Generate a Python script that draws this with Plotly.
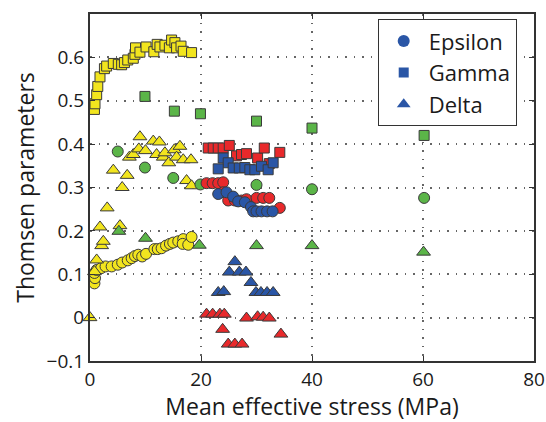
import plotly.graph_objects as go

# --- Yellow series ---
yel_sq_x = [0.8, 0.9, 1.2, 1.4, 1.8, 2.6, 3.0, 4.2, 5.1, 5.7, 6.2, 6.8, 7.8, 8.1, 8.2, 9.0,
            10.1, 11.5, 12.1, 12.6, 13.5, 14.3, 14.7, 15.3, 15.6, 16.4, 16.8, 18.3]
yel_sq_y = [0.480, 0.493, 0.514, 0.533, 0.555, 0.574, 0.580, 0.586, 0.584, 0.583, 0.588, 0.594,
            0.598, 0.607, 0.622, 0.612, 0.624, 0.613, 0.630, 0.624, 0.628, 0.622, 0.640, 0.634,
            0.622, 0.626, 0.614, 0.611]

yel_ci_x = [0.8, 0.9, 0.8, 1.2, 2.0, 2.8, 3.9, 5.0, 5.8, 6.8, 7.5, 8.1, 8.7, 9.4, 10.1, 11.6,
            12.2, 12.9, 13.7, 14.4, 15.0, 15.9, 16.8, 16.7, 17.7, 18.3]
yel_ci_y = [0.079, 0.091, 0.103, 0.110, 0.114, 0.118, 0.118, 0.122, 0.127, 0.132, 0.137, 0.142,
            0.145, 0.141, 0.147, 0.158, 0.158, 0.160, 0.166, 0.170, 0.173, 0.176, 0.181, 0.170,
            0.168, 0.186]

yel_tr_x = [0.0, 0.8, 1.2, 2.1, 2.4, 1.8, 5.4, 3.1, 5.8, 6.7, 4.2, 7.1, 7.8, 8.8, 9.0, 10.0,
            11.4, 12.5, 12.0, 13.2, 13.5, 14.2, 15.2, 15.6, 16.2, 16.8, 17.4, 18.2, 18.3]
yel_tr_y = [0.000, 0.106, 0.133, 0.166, 0.176, 0.209, 0.212, 0.253, 0.300, 0.328, 0.340, 0.370,
            0.376, 0.389, 0.417, 0.385, 0.407, 0.405, 0.376, 0.370, 0.380, 0.357, 0.387, 0.370,
            0.395, 0.364, 0.316, 0.364, 0.304]

# --- Green series ---
grn_sq_x = [9.9, 15.2, 19.9, 30.0, 40.0, 60.2]
grn_sq_y = [0.510, 0.476, 0.470, 0.453, 0.437, 0.420]
grn_ci_x = [5.0, 9.9, 15.0, 19.9, 30.0, 40.0, 60.2]
grn_ci_y = [0.383, 0.346, 0.322, 0.307, 0.306, 0.296, 0.276]
grn_tr_x = [5.2, 10.0, 19.7, 30.0, 40.0, 60.1]
grn_tr_y = [0.199, 0.183, 0.167, 0.166, 0.166, 0.151]

# --- Red series ---
red_sq_x = [21.3, 22.2, 23.1, 24.0, 25.1, 26.4, 27.3, 28.2, 30.2, 31.4, 32.3, 34.2]
red_sq_y = [0.391, 0.391, 0.391, 0.391, 0.397, 0.373, 0.376, 0.378, 0.368, 0.391, 0.355, 0.381]
red_ci_x = [21.0, 22.1, 23.1, 24.0, 24.0, 24.9, 26.1, 27.3, 28.2, 30.0, 31.2, 32.3, 34.2]
red_ci_y = [0.310, 0.310, 0.310, 0.312, 0.289, 0.270, 0.270, 0.270, 0.273, 0.276, 0.276, 0.276, 0.253]
red_tr_x = [21.0, 22.1, 23.4, 24.2, 28.2, 30.2, 31.2, 32.3, 23.9, 34.4, 24.9, 26.1, 27.4]
red_tr_y = [0.008, 0.008, 0.008, 0.008, -0.001, 0.002, 0.001, -0.001, -0.027, -0.038, -0.061, -0.061, -0.061]

# --- Blue series ---
blu_sq_x = [24.0, 24.9, 23.1, 25.8, 26.9, 27.9, 28.8, 29.7, 30.9, 32.1, 33.0]
blu_sq_y = [0.368, 0.357, 0.343, 0.345, 0.345, 0.346, 0.341, 0.341, 0.349, 0.341, 0.357]
blu_ci_x = [23.1, 24.6, 25.8, 26.7, 27.9, 29.0, 29.4, 30.0, 30.9, 31.9, 32.9]
blu_ci_y = [0.285, 0.289, 0.279, 0.268, 0.266, 0.255, 0.245, 0.245, 0.245, 0.245, 0.245]
blu_tr_x = [26.1, 25.1, 26.9, 28.1, 29.0, 23.1, 24.1, 29.9, 30.8, 31.9, 33.0]
blu_tr_y = [0.129, 0.105, 0.105, 0.105, 0.081, 0.058, 0.060, 0.058, 0.058, 0.058, 0.058]

x_ticks = [0, 20, 40, 60, 80]
y_ticks = [-0.1, 0, 0.1, 0.2, 0.3, 0.4, 0.5, 0.6]
y_tick_text = ["\u22120.1", "0", "0.1", "0.2", "0.3", "0.4", "0.5", "0.6"]
legend_names = ["Epsilon", "Gamma", "Delta"]

YELLOW = "#f2e51e"
GREEN = "#5bb548"
RED = "#e8292b"
BLUE = "#2a56a6"
EDGE = "#3a3a3a"
FONT = "Open Sans"

SYM = {"ci": ("circle", 11), "sq": ("square", 10), "tr": ("triangle-up", 12)}

series = [
    (yel_sq_x, yel_sq_y, YELLOW, "sq"), (yel_ci_x, yel_ci_y, YELLOW, "ci"), (yel_tr_x, yel_tr_y, YELLOW, "tr"),
    (grn_sq_x, grn_sq_y, GREEN, "sq"), (grn_ci_x, grn_ci_y, GREEN, "ci"), (grn_tr_x, grn_tr_y, GREEN, "tr"),
    (red_sq_x, red_sq_y, RED, "sq"), (red_ci_x, red_ci_y, RED, "ci"), (red_tr_x, red_tr_y, RED, "tr"),
    (blu_sq_x, blu_sq_y, BLUE, "sq"), (blu_ci_x, blu_ci_y, BLUE, "ci"), (blu_tr_x, blu_tr_y, BLUE, "tr"),
]

fig = go.Figure()
for xs, ys, col, kind in series:
    sym, sz = SYM[kind]
    fig.add_trace(go.Scatter(
        x=xs, y=ys, mode="markers", showlegend=False, hoverinfo="skip", cliponaxis=False,
        marker=dict(symbol=sym, size=sz, color=col, line=dict(color=EDGE, width=1)),
    ))

# legend-only entries (blue symbols)
for name, kind in zip(legend_names, ["ci", "sq", "tr"]):
    sym, _ = SYM[kind]
    fig.add_trace(go.Scatter(
        x=[None], y=[None], mode="markers", name=name, legendgroup=name,
        marker=dict(symbol=sym, size=12 if kind != "sq" else 10, color=BLUE, line=dict(width=0)),
    ))

axis_common = dict(
    showline=True, linecolor="#333333", linewidth=2, mirror="ticks",
    ticks="inside", ticklen=5, tickwidth=1, tickcolor="#333333",
    showgrid=True, gridcolor="#666666", griddash="1.5px,7px", gridwidth=1.5,
    zeroline=False, automargin=False,
    tickfont=dict(family=FONT, size=19, color="#1a1a1a"),
)

fig.update_layout(
    width=546, height=422,
    margin=dict(l=90, r=12, t=14, b=61),
    paper_bgcolor="white", plot_bgcolor="white",
    font=dict(family=FONT, color="#1a1a1a"),
    xaxis=dict(range=[0, 80], tickvals=x_ticks,
               title=dict(text="Mean effective stress (MPa)", font=dict(family=FONT, size=23), standoff=3),
               **axis_common),
    yaxis=dict(range=[-0.1, 0.7], tickvals=y_ticks, ticktext=y_tick_text,
               title=dict(text="Thomsen parameters", font=dict(family=FONT, size=23), standoff=6),
               **axis_common),
    legend=dict(x=0.648, y=0.985, xanchor="left", yanchor="top",
                bgcolor="white", bordercolor="#333333", borderwidth=1,
                font=dict(family=FONT, size=22), itemwidth=40,
                tracegroupgap=0, traceorder="grouped", entrywidth=95),
)

fig.write_html("out.html")
